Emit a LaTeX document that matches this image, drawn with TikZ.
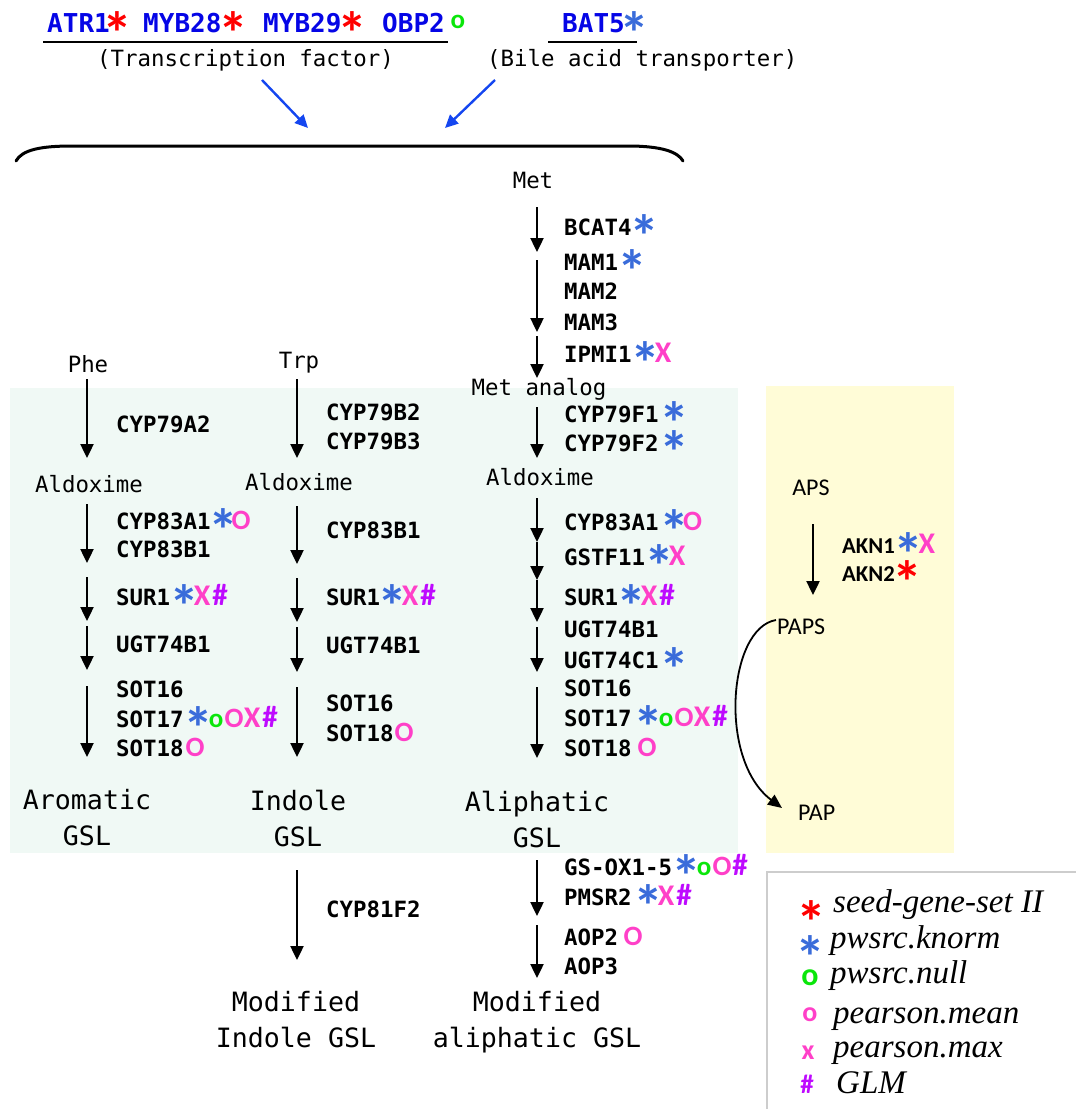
\documentclass[tikz,border=0pt]{standalone}
\usepackage{fontspec}
\setmonofont{DejaVu Sans Mono}
\newfontfamily\astf{Carlito}
\newfontfamily\calf{Carlito}
\newfontfamily\lgf{Liberation Serif}
\usetikzlibrary{arrows.meta}
\definecolor{kblue}{RGB}{58,108,218}
\definecolor{kred}{RGB}{255,0,0}
\definecolor{kgreen}{RGB}{10,230,10}
\definecolor{kpink}{RGB}{255,64,200}
\definecolor{kpurple}{RGB}{190,10,255}
\definecolor{hblue}{RGB}{5,5,230}
\definecolor{ablue}{RGB}{20,70,240}
\definecolor{bggreen}{RGB}{240,249,245}
\definecolor{bgyellow}{RGB}{255,252,215}
\definecolor{lgray}{RGB}{205,205,205}
\newcommand\MA[1]{\makebox[18pt][c]{\raisebox{-22pt}[0pt][0pt]{\color{#1}\astf\bfseries\fontsize{60}{60}\selectfont *}}}
\newcommand\MG[3]{\makebox[18pt][c]{\color{#1}\calf\bfseries\fontsize{#3}{#3}\selectfont #2}}
\newcommand\Ks{\MA{kblue}}
\newcommand\Kr{\MA{kred}}
\newcommand\Kg{\MG{kgreen}{o}{27}}
\newcommand\KO{\MG{kpink}{O}{28}}
\newcommand\KX{\MG{kpink}{X}{30}}
\newcommand\Kh{\MG{kpurple}{\#}{31}}
\tikzset{
  gene/.style={font=\ttfamily\bfseries\fontsize{22.4}{26}\selectfont, anchor=base west, inner sep=0pt},
  metab/.style={font=\ttfamily\fontsize{22.4}{26}\selectfont, anchor=base, inner sep=0pt},
  prod/.style={font=\ttfamily\fontsize{26.6}{36}\selectfont, anchor=north, align=center, inner sep=0pt},
  hdr/.style={font=\ttfamily\bfseries\fontsize{26}{30}\selectfont, text=hblue, anchor=base west, inner sep=0pt},
  sulf/.style={font=\calf\fontsize{24}{28}\selectfont, inner sep=0pt},
  akn/.style={font=\calf\bfseries\fontsize{22.7}{27}\selectfont, anchor=base west, inner sep=0pt},
  lgtext/.style={font=\lgf\itshape\fontsize{33}{36}\selectfont, anchor=base west, inner sep=0pt},
  lgmark/.style={anchor=base, inner sep=0pt},
  arr/.style={line width=2.4pt, -{Triangle[width=13pt,length=14pt]}},
  barr/.style={line width=2.4pt, draw=ablue, -{Triangle[width=12pt,length=13pt]}},
  curvearr/.style={line width=1.8pt, -{Triangle[width=12pt,length=14pt]}},
  bracket/.style={line width=3pt, line cap=round},
  uline/.style={line width=2pt}
}
\begin{document}
\begin{tikzpicture}[x=1pt,y=-1pt]
\useasboundingbox (0,0) rectangle (1076,1109);
% backgrounds
\fill[bggreen] (10,388) rectangle (738,853);
\fill[bgyellow] (766,386) rectangle (954,853);
% header
\node[hdr] (atr1) at (47,32) {ATR1\hspace{-1.5pt}\Kr};
\node[hdr] (myb28) at (143,32) {MYB28\hspace{2.5pt}\Kr};
\node[hdr] (myb29) at (263,32) {MYB29\hspace{2pt}\Kr};
\node[hdr] (obp2) at (382,32) {OBP2\hspace{4pt}\raisebox{4pt}{\Kg}};
\node[hdr] (bat5) at (562,32) {BAT5\hspace{1pt}\Ks};
\coordinate (ula) at (43,42); \coordinate (ulb) at (448,42);
\coordinate (ulc) at (548,42); \coordinate (uld) at (637,42);
\draw[uline] (ula) -- (ulb);
\draw[uline] (ulc) -- (uld);
\node[metab, anchor=base west] (tf) at (97,66) {(Transcription factor)};
\node[metab, anchor=base west] (bat) at (487,66) {(Bile acid transporter)};
\coordinate (ba1) at (262,80); \coordinate (ba2) at (308,128);
\coordinate (ba3) at (495,80); \coordinate (ba4) at (445,128);
\draw[barr] (ba1) -- (ba2);
\draw[barr] (ba3) -- (ba4);
% bracket
\coordinate (br1) at (16,161); \coordinate (br2) at (683,161);
\draw[bracket] (br1) .. controls (22,150) and (40,146) .. (72,146) -- (628,146) .. controls (662,146) and (678,152) .. (br2);
% metabolites
\node[metab] (met) at (533,188) {Met};
\node[metab] (metan) at (539,395) {Met analog};
\node[metab] (phe) at (88,372) {Phe};
\node[metab] (trp) at (299,368) {Trp};
\node[metab] (ald1) at (89,492) {Aldoxime};
\node[metab] (ald2) at (299,490) {Aldoxime};
\node[metab] (ald3) at (540,485) {Aldoxime};
\node[prod] (arom) at (87,789) {Aromatic\\GSL};
\node[prod] (indo) at (298,790) {Indole\\GSL};
\node[prod] (alip) at (537,791) {Aliphatic\\GSL};
\node[prod] (modi) at (296,991) {Modified\\Indole GSL};
\node[prod] (moda) at (537,991) {Modified\\aliphatic GSL};
% arrows
\foreach \n/\x/\ya/\yb in {
  ca/87/379/458, cb/87/504/563, cc/87/577/621, cd/87/626/670, ce/87/686/757,
  da/297/379/458, db/297/506/564, dc/297/578/622, dd/297/627/672, de/297/687/757, df/297/870/960,
  ea/537/207/252, eb/537/260/332, ec/537/336/378, ed/537/407/458, ee/537/498/542, ef/537/542/580,
  eg/537/580/622, eh/537/627/672, ei/537/687/758, ej/537/860/916, ek/537/925/978,
  ya/813/524/595}
{
  \coordinate (\n s) at (\x,\ya);
  \coordinate (\n e) at (\x,\yb);
  \draw[arr] (\n s) -- (\n e);
}
% column 1 genes
\node[gene] (g1a) at (116,432) {CYP79A2};
\node[gene] (g1b) at (116,529) {CYP83A1\hspace{3.5pt}\Ks\KO};
\node[gene] (g1c) at (116,557) {CYP83B1};
\node[gene] (g1d) at (116,605) {SUR1\hspace{5pt}\Ks\KX\Kh};
\node[gene] (g1e) at (116,652) {UGT74B1};
\node[gene] (g1f) at (116,697) {SOT16};
\node[gene] (g1g) at (116,727) {SOT17\hspace{5.5pt}\Ks\Kg\KO\KX\Kh};
\node[gene] (g1h) at (116,756) {SOT18\hspace{2.5pt}\KO};
% column 2 genes
\node[gene] (g2a) at (326,420) {CYP79B2};
\node[gene] (g2b) at (326,449) {CYP79B3};
\node[gene] (g2c) at (326,538) {CYP83B1};
\node[gene] (g2d) at (326,605) {SUR1\hspace{3pt}\Ks\KX\Kh};
\node[gene] (g2e) at (326,653) {UGT74B1};
\node[gene] (g2f) at (326,711) {SOT16};
\node[gene] (g2g) at (326,741) {SOT18\hspace{1.5pt}\KO};
\node[gene] (g2h) at (326,917) {CYP81F2};
% column 3 genes
\node[gene] (g3a) at (564,235) {BCAT4\hspace{3.5pt}\Ks};
\node[gene] (g3b) at (564,270) {MAM1\hspace{5pt}\Ks};
\node[gene] (g3c) at (564,299) {MAM2};
\node[gene] (g3d) at (564,330) {MAM3};
\node[gene] (g3e) at (564,362) {IPMI1\hspace{4.5pt}\Ks\KX};
\node[gene] (g3f) at (564,422) {CYP79F1\hspace{7pt}\Ks};
\node[gene] (g3g) at (564,451) {CYP79F2\hspace{7pt}\Ks};
\node[gene] (g3h) at (564,530) {CYP83A1\hspace{7pt}\Ks\KO};
\node[gene] (g3i) at (564,565) {GSTF11\hspace{5pt}\Ks\KX};
\node[gene] (g3j) at (564,605) {SUR1\hspace{4pt}\Ks\KX\Kh};
\node[gene] (g3k) at (564,637) {UGT74B1};
\node[gene] (g3l) at (564,668) {UGT74C1\hspace{7pt}\Ks};
\node[gene] (g3m) at (564,696) {SOT16};
\node[gene] (g3n) at (564,726) {SOT17\hspace{7.5pt}\Ks\Kg\KO\KX\Kh};
\node[gene] (g3o) at (564,756) {SOT18\hspace{6.5pt}\KO};
\node[gene] (g3p) at (564,875) {GS-OX1-5\hspace{5pt}\Ks\Kg\KO\Kh};
\node[gene] (g3q) at (564,905) {PMSR2\hspace{7.5pt}\Ks\KX\Kh};
\node[gene] (g3r) at (564,945) {AOP2\hspace{6pt}\KO};
\node[gene] (g3s) at (564,974) {AOP3};
% sulfur branch
\node[sulf, anchor=base] (aps) at (811,495) {APS};
\node[sulf, anchor=base west] (paps) at (777,634) {PAPS};
\node[sulf, anchor=base west] (pap) at (798,820) {PAP};
\node[akn] (akn1) at (842,553) {AKN1\hspace{5pt}\Ks\KX};
\node[akn] (akn2) at (842,581) {AKN2\hspace{4pt}\Kr};
\coordinate (cpa) at (776,620); \coordinate (cpb) at (782,808);
\draw[curvearr] (cpa) .. controls (728,628) and (718,760) .. (cpb);
% legend
\coordinate (lga) at (767,1109); \coordinate (lgb) at (767,872); \coordinate (lgc) at (1076,872);
\draw[lgray, line width=2pt] (lga) -- (lgb) -- (lgc);
\node[lgmark] (lm1) at (811,912) {\raisebox{-9pt}{\MA{kred}}};
\node[lgtext] (lt1) at (833,912) {seed-gene-set II};
\node[lgmark] (lm2) at (810,948) {\raisebox{-8pt}{\MA{kblue}}};
\node[lgtext] (lt2) at (830,948) {pwsrc.knorm};
\node[lgmark, font=\calf\bfseries\fontsize{32}{32}\selectfont, text=kgreen] (lm3) at (810,985) {o};
\node[lgtext] (lt3) at (830,983) {pwsrc.null};
\node[lgmark, font=\calf\bfseries\fontsize{28}{28}\selectfont, text=kpink] (lm4) at (810,1021) {o};
\node[lgtext] (lt4) at (833,1023) {pearson.mean};
\node[lgmark, font=\calf\bfseries\fontsize{28}{28}\selectfont, text=kpink] (lm5) at (808,1059) {x};
\node[lgtext] (lt5) at (833,1057) {pearson.max};
\node[lgmark, font=\calf\bfseries\fontsize{27}{27}\selectfont, text=kpurple] (lm6) at (807,1093) {\#};
\node[lgtext] (lt6) at (836,1093) {GLM};
\end{tikzpicture}
\end{document}
